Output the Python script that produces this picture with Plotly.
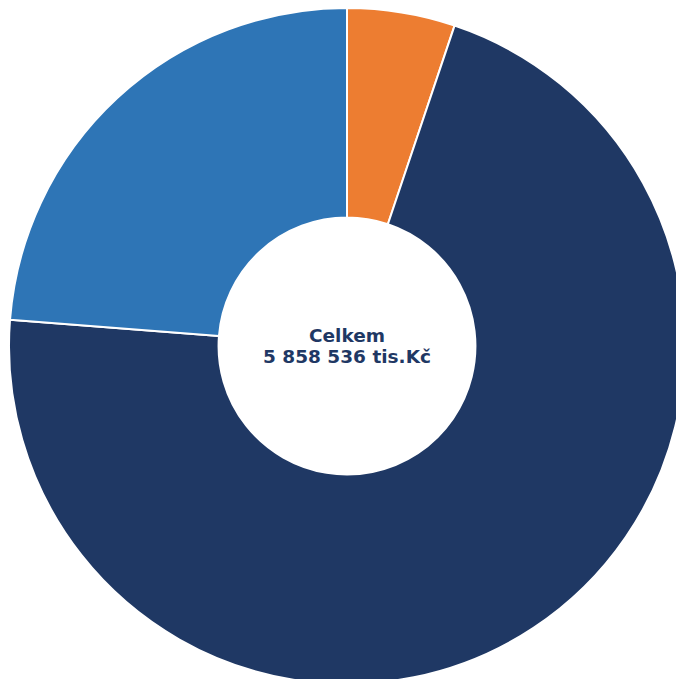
import plotly.graph_objects as go

# Budget breakdown shown as a donut, total in the centre
categories = ["Kapitálové výdaje", "Běžné výdaje", "Transfery"]
values = [302000, 4164536, 1392000]
colors = ["#ED7D31", "#1F3864", "#2E75B6"]
total_lines = ["Celkem", "5 858 536 tis.Kč"]

fig = go.Figure(
    go.Pie(
        labels=categories,
        values=values,
        hole=0.38,
        sort=False,
        direction="clockwise",
        rotation=0,
        marker=dict(colors=colors, line=dict(color="white", width=2)),
        textinfo="none",
        hoverinfo="label+value+percent",
        showlegend=False,
    )
)

# Two centred lines of bold text in the hole
for line, shift in zip(total_lines, [11, -10]):
    fig.add_annotation(
        text="<b>" + line + "</b>",
        x=0.5, y=0.5, xref="paper", yref="paper",
        yshift=shift,
        showarrow=False,
        font=dict(family="DejaVu Sans", size=18.5, color="#1F3864"),
        align="center",
    )

fig.update_layout(
    width=694,
    height=692,
    margin=dict(l=9, r=9, t=8, b=8),
    paper_bgcolor="white",
    plot_bgcolor="white",
)

fig.write_html("out.html")
